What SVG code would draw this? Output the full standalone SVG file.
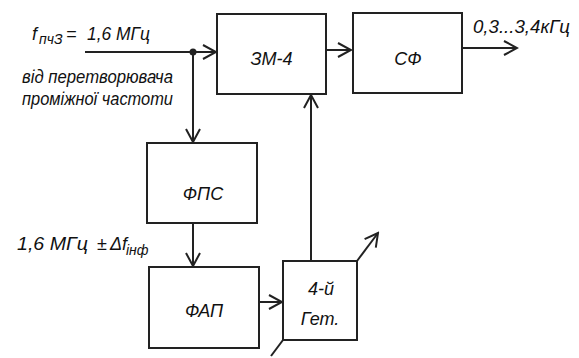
<svg xmlns="http://www.w3.org/2000/svg" width="579" height="358" viewBox="0 0 579 358">
<style>
.box{fill:#fff;stroke:#222;stroke-width:2}
.ln{fill:none;stroke:#222;stroke-width:2}
text{font-family:"Liberation Sans",Arial,sans-serif;font-style:italic;fill:#111}
.bl{font-size:18px;text-anchor:middle}
.lb{font-size:18px}
.sub{font-size:14px}
</style>
<defs>
<marker id="ar" markerUnits="userSpaceOnUse" viewBox="-15 -9 17 18" refX="0" refY="0" markerWidth="17" markerHeight="18" orient="auto">
<path d="M-13,-7 L0,0 L-13,7" fill="none" stroke="#222" stroke-width="2"/>
</marker>
</defs>
<rect width="579" height="358" fill="#fff"/>
<g id="connectors">
<path class="ln" d="M85,52 H216" marker-end="url(#ar)"/>
<circle cx="193" cy="52" r="3.5" fill="#222"/>
<path class="ln" d="M193,52 V142" marker-end="url(#ar)"/>
<path class="ln" d="M193,223 V266" marker-end="url(#ar)"/>
<path class="ln" d="M259,302 H282" marker-end="url(#ar)"/>
<path class="ln" d="M311,261 V95" marker-end="url(#ar)"/>
<path class="ln" d="M326,50 H351" marker-end="url(#ar)"/>
<path class="ln" d="M462,48 H517" marker-end="url(#ar)"/>
<path class="ln" d="M357,261 L378,233" marker-end="url(#ar)"/>
<path class="ln" d="M283,340 L271,356"/>
</g>
<g id="zm4">
<rect class="box" x="217" y="14" width="109" height="80"/>
<text class="bl" x="271.5" y="65">ЗМ-4</text>
</g>
<g id="sf">
<rect class="box" x="353" y="13" width="109" height="80"/>
<text class="bl" x="408" y="65">СФ</text>
</g>
<g id="fps">
<rect class="box" x="147" y="143" width="110" height="80"/>
<text class="bl" x="203" y="200">ФПС</text>
</g>
<g id="fap">
<rect class="box" x="149" y="267" width="110" height="81"/>
<text class="bl" x="204" y="317">ФАП</text>
</g>
<g id="get">
<rect class="box" x="283" y="261" width="74" height="79"/>
<text class="bl" x="321" y="295">4-й</text>
<text class="bl" x="320" y="325">Гет.</text>
</g>
<g id="labels">
<text class="lb" x="32" y="40">f<tspan class="sub" x="39" y="44">пчЗ</tspan><tspan x="66" y="40">=</tspan><tspan x="87" y="40" textLength="63" lengthAdjust="spacingAndGlyphs">1,6 МГц</tspan></text>
<text class="lb" x="22" y="83" font-size="19" textLength="151" lengthAdjust="spacingAndGlyphs">від перетворювача</text>
<text class="lb" x="22" y="105" font-size="19" textLength="151" lengthAdjust="spacingAndGlyphs">проміжної частоти</text>
<text class="lb" x="17" y="250" textLength="71" lengthAdjust="spacingAndGlyphs">1,6 МГц</text>
<text class="lb" x="97" y="250">±</text>
<text class="lb" x="110" y="250">Δf<tspan class="sub" x="126" y="255">інф</tspan></text>
<text class="lb" x="473" y="33" textLength="97" lengthAdjust="spacingAndGlyphs">0,3...3,4кГц</text>
</g>
</svg>
